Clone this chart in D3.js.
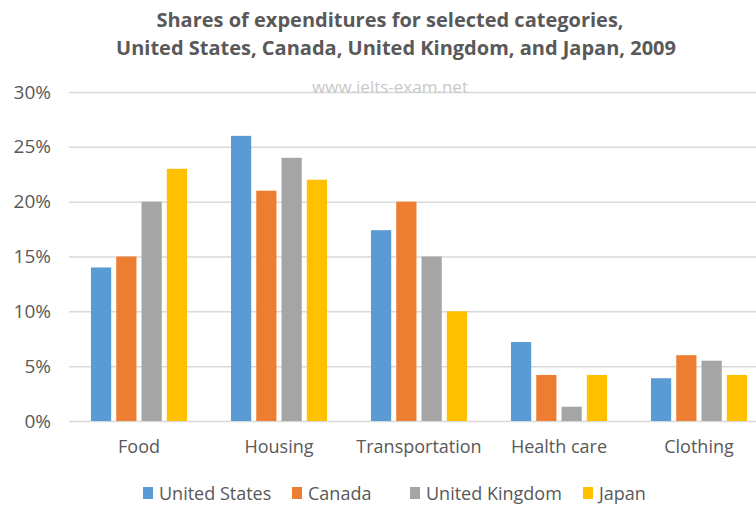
<!DOCTYPE html>
<html lang="en">
<head>
<meta charset="UTF-8">
<title>Shares of expenditures</title>
<script src="https://d3js.org/d3.v7.min.js"></script>
<style>
  body { margin: 0; background: #fff; }
  text { font-family: "Open Sans", Lato, sans-serif; fill: #595959; }
</style>
</head>
<body>
<svg id="chart" width="756" height="508"></svg>
<script>
// data
const categories = ["Food", "Housing", "Transportation", "Health care", "Clothing"];
const seriesNames = ["United States", "Canada", "United Kingdom", "Japan"];
const unitedStates = [14, 26, 17.4, 7.2, 3.9];
const canada = [15, 21, 20, 4.2, 6.0];
const unitedKingdom = [20, 24, 15, 1.3, 5.5];
const japan = [23, 22, 10, 4.2, 4.2];
const yTicks = [0, 5, 10, 15, 20, 25, 30];
const colors = ["#5B9BD5", "#ED7D31", "#A5A5A5", "#FFC000"];

const seriesValues = [unitedStates, canada, unitedKingdom, japan];
const rows = categories.map((c, i) => ({
  cat: c,
  vals: seriesNames.map((s, j) => ({ key: s, value: seriesValues[j][i] }))
}));

const svg = d3.select("#chart");
const margin = { left: 69, top: 92, bottom: 421 };
const font = "'Open Sans', Lato, sans-serif";

const x0 = d3.scaleBand()
  .domain(categories)
  .range([margin.left, margin.left + 700])
  .paddingInner(0.314)
  .paddingOuter(0.157);

const x1 = d3.scaleBand()
  .domain(seriesNames)
  .range([0, x0.bandwidth()])
  .paddingInner(0.2);

const y = d3.scaleLinear()
  .domain([0, 30])
  .range([margin.bottom, margin.top]);

const color = d3.scaleOrdinal().domain(seriesNames).range(colors);

// gridlines + y labels
const yAxis = svg.append("g")
  .attr("transform", `translate(${margin.left},0)`)
  .call(d3.axisLeft(y).tickValues(yTicks).tickFormat(d => d + "%").tickSize(-700).tickPadding(18));
yAxis.select(".domain").remove();
yAxis.selectAll(".tick line").attr("stroke", "#d9d9d9").attr("stroke-width", 1.5);
yAxis.selectAll(".tick text").style("font-size", "19px").attr("fill", "#595959")
  .style("font-family", font);

// watermark
svg.append("text")
  .attr("x", 390).attr("y", 93)
  .attr("text-anchor", "middle")
  .style("font-size", "17px")
  .style("fill", "#c8c8c8")
  .text("www.ielts-exam.net");

// bars
svg.append("g").selectAll("g")
  .data(rows)
  .join("g")
  .attr("transform", d => `translate(${x0(d.cat)},0)`)
  .selectAll("rect")
  .data(d => d.vals)
  .join("rect")
  .attr("x", d => x1(d.key))
  .attr("y", d => y(d.value))
  .attr("width", x1.bandwidth())
  .attr("height", d => y(0) - y(d.value))
  .attr("fill", d => color(d.key));

// x axis labels
const xAxis = svg.append("g")
  .attr("transform", `translate(0,${margin.bottom})`)
  .call(d3.axisBottom(x0).tickSize(0).tickPadding(19));
xAxis.select(".domain").remove();
xAxis.selectAll(".tick text").style("font-size", "18px").attr("fill", "#595959")
  .style("font-family", font);

// title
svg.append("text")
  .attr("x", 390).attr("y", 27)
  .attr("text-anchor", "middle")
  .style("font-size", "20px").style("font-weight", "bold")
  .text("Shares of expenditures for selected categories,");
svg.append("text")
  .attr("x", 396).attr("y", 55)
  .attr("text-anchor", "middle")
  .style("font-size", "20px").style("font-weight", "bold")
  .text("United States, Canada, United Kingdom, and Japan, 2009");

// legend
const legendX = [143, 292, 410, 583];
const legend = svg.append("g").selectAll("g")
  .data(seriesNames)
  .join("g")
  .attr("transform", (d, i) => `translate(${legendX[i]},488)`);
legend.append("rect")
  .attr("width", 10).attr("height", 12).attr("y", -1)
  .attr("fill", d => color(d));
legend.append("text")
  .attr("x", 16).attr("y", 12)
  .style("font-size", "18px")
  .text(d => d);
</script>
</body>
</html>
